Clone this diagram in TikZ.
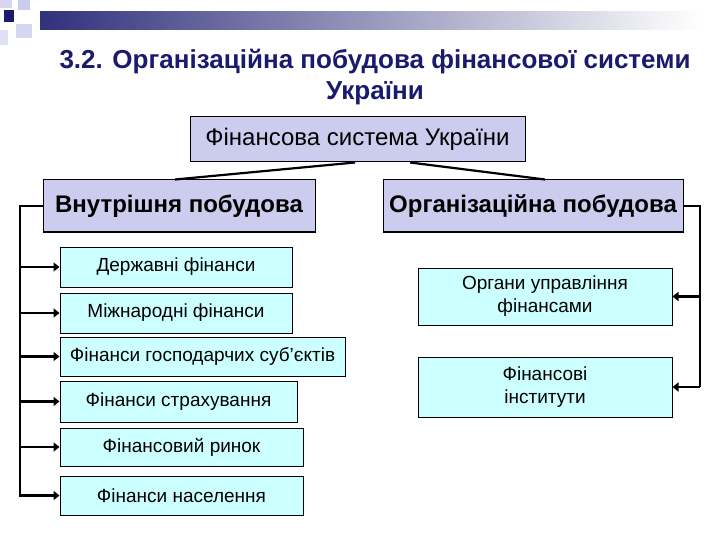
\documentclass[tikz,border=0pt]{standalone}
\usepackage{fontspec}
\setmainfont{Liberation Sans}
\usetikzlibrary{arrows.meta}
\definecolor{navy}{HTML}{1A1A6E}
\definecolor{lav}{HTML}{CCCCEE}
\definecolor{cy}{HTML}{CCFFFF}
\tikzset{
 topbox/.style={draw=black,line width=1pt,fill=lav,font=\fontsize{24}{28}\selectfont,inner sep=0pt},
 childbox/.style={draw=black,line width=1pt,fill=cy,font=\fontsize{19}{23}\selectfont,align=center,inner sep=0pt},
 link/.style={line width=2.2pt},
 arr/.style={line width=2.2pt,-{Triangle[length=6pt,width=9pt]}}
}
\begin{document}
\begin{tikzpicture}[x=1pt,y=-1pt]
\useasboundingbox (0,0) rectangle (720,540);
% header decoration
\shade[left color=navy!90,right color=white] (40,12) rectangle (700,30);
\fill[lav!80] (0,0) rectangle (12,8);
\fill[lav!80] (16,24) rectangle (32,38);
\fill[lav!60] (0,30) rectangle (8,45);
\fill[navy] (4,10) rectangle (14,22);
\fill[lav] (18,0) rectangle (30,10);
% title
\node[font=\bfseries\fontsize{26}{31}\selectfont,text=navy,align=center] (title) at (375,77) {3.2. Організаційна побудова фінансової системи\\України};
% boxes
\node[topbox,minimum width=335,minimum height=45] (root) at (357.5,139.5) {Фінансова система України};
\node[topbox,minimum width=272,minimum height=52] (in) at (179,206) {\bfseries Внутрішня побудова};
\node[topbox,minimum width=300,minimum height=52] (org) at (533,206) {\bfseries Організаційна побудова};
\node[childbox,minimum width=232,minimum height=40] (c1) at (176,267) {Державні фінанси};
\node[childbox,minimum width=232,minimum height=40] (c2) at (176,313) {Міжнародні фінанси};
\node[childbox,minimum width=285,minimum height=39] (c3) at (202.5,356.5) {Фінанси господарчих суб'єктів};
\node[childbox,minimum width=237,minimum height=41] (c4) at (178.5,401.5) {Фінанси страхування};
\node[childbox,minimum width=243,minimum height=38] (c5) at (181.5,447) {Фінансовий ринок};
\node[childbox,minimum width=243,minimum height=39] (c6) at (181.5,495.5) {Фінанси населення};
\node[childbox,minimum width=254,minimum height=57] (r1) at (545,296.5) {Органи управління\\фінансами};
\node[childbox,minimum width=254,minimum height=60] (r2) at (545,387) {Фінансові\\інститути};
% links
\coordinate (rl) at (355,162.5); \coordinate (rr) at (410,162.5);
\draw[link] (rl) -- (175,179.5);
\draw[link] (rr) -- (545,179.5);
\coordinate (lb) at (20,206);
\coordinate (rb) at (700,206);
\draw[link] (in.west) -- (lb) -- (20,497);
\draw[link] (org.east) -- (rb) -- (700,387);
\foreach \c in {c1,c2,c3,c4,c5,c6}{\draw[arr] (20,0 |- \c.west) -- (\c.west);}
\foreach \c in {r1,r2}{\draw[arr] (700,0 |- \c.east) -- (\c.east);}
\end{tikzpicture}
\end{document}
